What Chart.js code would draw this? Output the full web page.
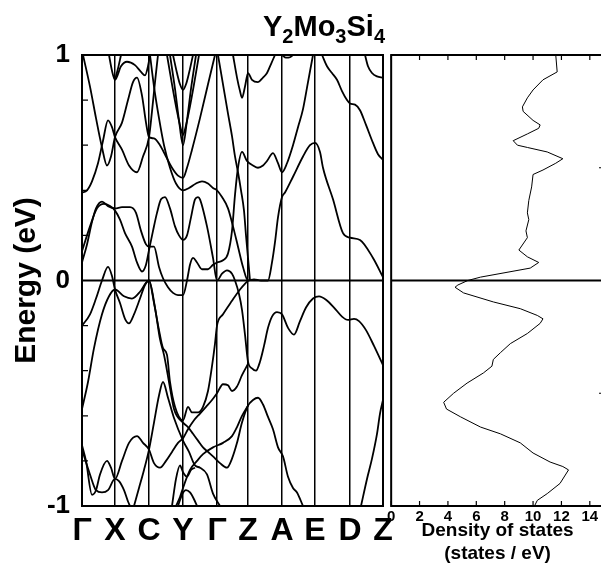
<!DOCTYPE html>
<html>
<head>
<meta charset="utf-8">
<script src="https://cdn.jsdelivr.net/npm/chart.js@4/dist/chart.umd.min.js"></script>
<style>
  html, body { margin: 0; padding: 0; background: #fff; overflow: hidden; width: 601px; height: 565px; }
  #wrap { position: relative; width: 601px; height: 565px; overflow: hidden; }
  #bands { position: absolute; left: 0; top: 0; }
  #dos { position: absolute; left: 385px; top: 0; }
  #title { position: absolute; left: 263px; top: 12px; font: bold 29px 'Liberation Sans', Arial, sans-serif; line-height: 29px; color: #000; white-space: nowrap; }
  #title sub { font-size: 20px; vertical-align: -7px; line-height: 0; }
</style>
</head>
<body>
<div id="wrap">
  <canvas id="bands" width="400" height="565"></canvas>
  <canvas id="dos" width="230" height="565"></canvas>
  <div id="title">Y<sub>2</sub>Mo<sub>3</sub>Si<sub>4</sub></div>
</div>
<script>
// high-symmetry points along the k path
let kLabels = ['Γ', 'X', 'C', 'Y', 'Γ', 'Z', 'A', 'E', 'D', 'Z'];
let kPos = [0, 33, 67, 101, 135, 166, 200, 233, 268, 301];

// bands, [k, energy in eV]
let band1 = [[1,1.0],[8,0.86],[14,0.72],[20,0.59],[25,0.51],[29,0.55],[33,0.636],[40,0.70],[46,0.80],[51,0.88],[55,0.90],[60,0.82],[64,0.70],[67,0.636],[72,0.63],[78,0.60],[84,0.55],[90,0.50],[96,0.465],[101,0.455],[105,0.50],[110,0.58],[118,0.72],[126,0.87],[133,1.0]];
let band2 = [[0,0.39],[5,0.40],[10,0.44],[16,0.52],[21,0.62],[26,0.71],[30,0.68],[33,0.636],[40,0.58],[47,0.51],[55,0.48],[61,0.55],[67,0.636],[70,0.75],[73,0.88],[76,1.0]];
let band3 = [[27,1.0],[30,0.93],[33,0.89],[39,0.95],[45,0.97],[53,0.955],[59,0.925],[63,0.91],[66,0.95],[68,1.0]];
let band3b = [[33,0.89],[36,0.94],[39,1.0]];
let band4 = [[68,1.0],[72,0.86],[77,0.72],[82,0.60],[88,0.50],[94,0.43],[101,0.40],[107,0.41],[114,0.43],[120,0.44],[126,0.43],[131,0.41],[135,0.40],[140,0.37],[146,0.32],[151,0.24],[156,0.15],[161,0.06],[166,0.0],[172,0.005],[179,0.0],[186,0.0],[190,0.08],[193,0.17],[196,0.28],[200,0.37],[203,0.39],[211,0.46],[221,0.55],[228,0.60],[233,0.61],[238,0.57],[241,0.50],[251,0.36],[261,0.21],[268,0.19],[278,0.18],[291,0.10],[301,0.015]];
let band5 = [[91,1.0],[95,0.92],[98,0.87],[101,0.845],[104,0.87],[107,0.92],[111,1.0]];
let band6 = [[85,1.0],[90,0.87],[95,0.75],[99,0.67],[101,0.645],[103,0.67],[107,0.75],[112,0.87],[117,1.0]];
let band7 = [[88,1.0],[93,0.85],[97,0.71],[101,0.60],[105,0.71],[109,0.85],[114,1.0]];
let band8 = [[136,1.0],[141,0.87],[146,0.74],[150,0.64],[153,0.55],[156,0.48],[159,0.40],[162,0.31],[164,0.2],[166,0.1],[168,0.0]];
let band9 = [[0,0.08],[5,0.16],[10,0.26],[14,0.32],[20,0.35],[26,0.33],[33,0.32],[40,0.325],[48,0.325],[54,0.30],[59,0.22],[64,0.16],[67,0.15],[72,0.15],[77,0.06],[81,0.01],[86,-0.03],[91,-0.055],[96,-0.065],[101,-0.065],[105,0.0],[108,0.07],[111,0.10],[115,0.08],[120,0.05],[126,0.05],[131,0.07],[135,0.08],[141,0.09],[146,0.12],[150,0.22],[153,0.38],[156,0.50],[160,0.57],[165,0.53],[171,0.51],[176,0.50],[181,0.51],[185,0.53],[191,0.565],[196,0.52],[200,0.48],[205,0.52],[211,0.60],[216,0.68],[221,0.76],[226,0.88],[231,1.0]];
let band10 = [[0,0.13],[8,0.24],[15,0.32],[22,0.34],[28,0.33],[33,0.31],[38,0.27],[43,0.21],[50,0.15],[55,0.08],[60,0.04],[64,0.07],[67,0.135],[71,0.22],[75,0.30],[79,0.36],[83,0.37],[88,0.32],[93,0.24],[97,0.20],[101,0.18],[105,0.20],[109,0.28],[113,0.36],[116,0.37],[118,0.36],[125,0.24],[131,0.10],[135,0.0],[140,0.03],[145,0.045],[150,0.03],[153,0.0],[157,-0.06],[160,-0.13],[163,-0.24],[166,-0.36],[170,-0.39],[174,-0.40],[178,-0.36],[182,-0.29],[186,-0.21],[190,-0.16],[195,-0.14],[200,-0.15],[206,-0.21],[212,-0.24],[218,-0.18],[224,-0.12],[231,-0.08],[237,-0.07],[244,-0.085],[252,-0.12],[260,-0.16],[266,-0.175],[272,-0.17],[277,-0.18],[284,-0.22],[292,-0.29],[301,-0.375]];
let band11 = [[0,-0.2],[8,-0.15],[14,-0.08],[20,0.0],[26,0.06],[30,0.02],[33,-0.04],[38,-0.10],[43,-0.17],[47,-0.19],[52,-0.15],[58,-0.08],[63,-0.02],[67,0.0],[72,-0.1],[77,-0.22],[81,-0.30],[85,-0.33],[88,-0.45],[93,-0.56],[101,-0.62],[106,-0.56],[110,-0.585],[116,-0.585],[121,-0.56],[126,-0.49],[130,-0.38],[133,-0.28],[135,-0.2],[141,-0.15],[150,-0.09],[158,-0.04],[166,0.0]];
let band12 = [[0,-0.57],[6,-0.45],[12,-0.30],[20,-0.15],[27,-0.07],[33,-0.04],[42,-0.07],[50,-0.08],[58,-0.05],[64,-0.01],[67,0.0],[73,-0.12],[78,-0.26],[82,-0.33],[87,-0.45],[92,-0.57],[101,-0.63],[106,-0.65],[111,-0.68],[116,-0.71],[121,-0.74],[126,-0.76],[131,-0.78],[138,-0.81],[145,-0.83],[150,-0.79],[155,-0.72],[160,-0.63],[166,-0.555],[171,-0.53],[176,-0.52],[181,-0.55],[186,-0.605],[191,-0.66],[196,-0.74],[201,-0.78],[206,-0.87],[211,-0.92],[215,-0.94],[221,-1.0]];
let band13 = [[0,-0.73],[4,-0.80],[10,-0.95],[14,-0.93],[18,-0.86],[25,-0.80],[29,-0.83],[33,-0.88],[40,-0.80],[47,-0.72],[55,-0.69],[61,-0.72],[67,-0.75],[72,-0.81],[78,-0.83],[84,-0.80],[90,-0.76],[96,-0.72],[101,-0.70],[106,-0.66],[112,-0.62],[118,-0.59],[124,-0.56],[130,-0.53],[135,-0.50],[141,-0.46],[146,-0.465],[150,-0.49],[155,-0.47],[160,-0.42],[166,-0.37]];
let band14 = [[0,-0.75],[8,-0.86],[14,-0.93],[20,-0.94],[26,-0.93],[33,-0.88],[37,-0.89],[42,-0.93],[46,-0.98],[48,-1.0]];
let band15 = [[52,-1.0],[57,-0.92],[62,-0.84],[67,-0.75],[72,-0.63],[77,-0.51],[81,-0.45],[86,-0.52],[92,-0.61],[101,-0.71],[107,-0.76],[113,-0.82],[118,-0.83],[125,-0.86],[131,-0.945],[138,-1.0]];
let band16 = [[90,-1.0],[94,-0.88],[98,-0.82],[101,-0.85],[105,-0.87],[109,-0.84],[113,-0.83]];
let band17 = [[94,-1.0],[98,-0.96],[101,-0.92],[108,-0.84],[115,-0.80],[121,-0.77],[131,-0.74],[141,-0.72],[150,-0.69],[155,-0.65],[160,-0.60],[166,-0.555]];
let band18 = [[96,-1.0],[100,-0.95],[104,-0.93],[108,-0.94],[112,-0.97],[115,-1.0]];
let band19 = [[151,1.0],[155,0.9],[158,0.84],[160,0.81],[163,0.86],[166,0.92],[170,0.89],[176,0.88],[181,0.90],[185,0.92],[189,0.96],[193,1.0]];
let band20 = [[200,1.0],[204,0.988],[208,0.99],[211,1.0]];
let band21 = [[240,1.0],[245,0.95],[250,0.92],[255,0.89],[260,0.84],[265,0.80],[268,0.785],[273,0.78],[278,0.755],[284,0.69],[291,0.61],[296,0.56],[301,0.535]];
let band22 = [[283,1.0],[286,0.95],[290,0.92],[295,0.905],[301,0.90]];
let band23 = [[279,-1.0],[285,-0.88],[290,-0.79],[295,-0.68],[298,-0.59],[301,-0.53]];

let bands = [band1, band2, band3, band3b, band4, band5, band6, band7, band8, band9, band10,
  band11, band12, band13, band14, band15, band16, band17, band18, band19, band20, band21, band22, band23];

// density of states (states / eV) against energy (eV)
let dosEnergy = [1.0, 0.925, 0.89, 0.845, 0.81, 0.77, 0.75, 0.71, 0.69, 0.675, 0.65, 0.62, 0.60, 0.59, 0.57, 0.54, 0.52, 0.49, 0.47, 0.415, 0.355, 0.30, 0.27, 0.22, 0.19, 0.135, 0.105, 0.08, 0.055, 0.015, 0.0, -0.02, -0.03, -0.055, -0.095, -0.125, -0.155, -0.17, -0.19, -0.235, -0.28, -0.32, -0.35, -0.38, -0.41, -0.455, -0.50, -0.54, -0.57, -0.605, -0.65, -0.68, -0.72, -0.765, -0.805, -0.825, -0.84, -0.90, -0.945, -0.975, -1.0];
let dosValue = [11.6, 11.7, 10.7, 10.0, 9.6, 9.25, 9.3, 10.0, 10.5, 10.4, 9.6, 8.6, 8.9, 9.6, 11.0, 12.1, 11.6, 10.7, 10.0, 9.9, 9.7, 9.6, 9.7, 9.5, 9.6, 9.0, 9.6, 10.4, 9.8, 6.3, 5.4, 4.7, 4.5, 5.1, 7.2, 9.1, 10.3, 10.7, 10.5, 9.6, 8.4, 7.7, 7.2, 7.1, 6.5, 5.35, 4.4, 3.7, 3.9, 4.9, 6.3, 7.7, 9.1, 10.0, 11.2, 12.1, 12.5, 11.9, 11.0, 10.3, 10.1];
let dosTicks = [0, 2, 4, 6, 8, 10, 12, 14];

Chart.defaults.font.family = "'Liberation Sans', Arial, sans-serif";
Chart.defaults.color = '#000';

// frame around the plot area + short ticks pointing inwards
const frameTicks = {
  id: 'frameTicks',
  afterDatasetsDraw(chart, args, opts) {
    const { ctx, chartArea: a } = chart;
    ctx.save();
    ctx.strokeStyle = '#000';
    ctx.lineWidth = 1.2;
    ctx.beginPath();
    (opts.marks || []).forEach(m => {
      const s = chart.scales[m.scale];
      s.ticks.forEach(t => {
        const p = s.getPixelForValue(t.value);
        if (m.side === 'left') { ctx.moveTo(a.left, p); ctx.lineTo(a.left + m.len, p); }
        if (m.side === 'right') { ctx.moveTo(a.right, p); ctx.lineTo(a.right - m.len, p); }
        if (m.side === 'bottom') { ctx.moveTo(p, a.bottom); ctx.lineTo(p, a.bottom - m.len); }
        if (m.side === 'top') { ctx.moveTo(p, a.top); ctx.lineTo(p, a.top + m.len); }
      });
    });
    ctx.stroke();
    ctx.lineWidth = opts.frame || 2;
    ctx.strokeRect(a.left, a.top, a.right - a.left, a.bottom - a.top);
    ctx.restore();
  }
};

const toXY = arr => arr.map(p => ({ x: p[0], y: p[1] }));

let bandSets = bands.map(b => ({
  data: toXY(b),
  showLine: true,
  borderColor: '#000',
  borderWidth: 1.8,
  pointRadius: 0,
  cubicInterpolationMode: 'monotone'
}));
bandSets.push({
  data: [{ x: kPos[0], y: 0 }, { x: kPos[kPos.length - 1], y: 0 }],
  showLine: true, borderColor: '#000', borderWidth: 2, pointRadius: 0
});

new Chart(document.getElementById('bands'), {
  type: 'scatter',
  data: { datasets: bandSets },
  options: {
    responsive: false,
    animation: false,
    layout: { padding: { top: 55, right: 17, left: 0, bottom: 0 } },
    plugins: {
      legend: { display: false },
      tooltip: { enabled: false },
      frameTicks: { frame: 2, marks: [{ scale: 'y', side: 'left', len: 6 }] }
    },
    scales: {
      x: {
        type: 'linear', min: 0, max: kPos[kPos.length - 1],
        afterBuildTicks: s => { s.ticks = kPos.map(v => ({ value: v })); },
        afterFit: s => { s.height = 59; },
        grid: { color: '#000', lineWidth: 1.5, drawTicks: false },
        border: { display: false },
        ticks: {
          callback: (v, i) => kLabels[i],
          autoSkip: false, maxRotation: 0,
          font: { size: 32, weight: 'bold' }, padding: 6
        }
      },
      y: {
        min: -1, max: 1,
        afterFit: s => { s.width = 82; },
        grid: { display: false, drawTicks: false },
        border: { display: false },
        ticks: {
          stepSize: 0.2, autoSkip: false,
          callback: v => Math.abs(v - Math.round(v)) < 1e-6 ? String(Math.round(v)) : '',
          font: { size: 26, weight: 'bold' }, padding: 12
        },
        title: { display: true, text: 'Energy (eV)', font: { size: 30, weight: 'bold' }, padding: { top: 9, bottom: 0 } }
      }
    }
  },
  plugins: [frameTicks]
});

new Chart(document.getElementById('dos'), {
  type: 'scatter',
  data: {
    datasets: [
      {
        data: dosValue.map((v, i) => ({ x: v, y: dosEnergy[i] })),
        showLine: true, borderColor: '#000', borderWidth: 1, pointRadius: 0, tension: 0
      },
      {
        data: [{ x: 0, y: 0 }, { x: 15, y: 0 }],
        showLine: true, borderColor: '#000', borderWidth: 2, pointRadius: 0
      }
    ]
  },
  options: {
    responsive: false,
    animation: false,
    layout: { padding: { top: 55, right: 11, left: 0, bottom: 0 } },
    plugins: {
      legend: { display: false },
      tooltip: { enabled: false },
      frameTicks: {
        frame: 2,
        marks: [
          { scale: 'x', side: 'bottom', len: 5 },
          { scale: 'x', side: 'top', len: 5 },
          { scale: 'y', side: 'right', len: 5 }
        ]
      }
    },
    scales: {
      x: {
        type: 'linear', min: 0, max: 15,
        afterBuildTicks: s => { s.ticks = dosTicks.map(v => ({ value: v })); },
        afterFit: s => { s.height = 59; },
        grid: { display: false, drawTicks: false },
        border: { display: false },
        ticks: { font: { size: 15, weight: 'bold' }, padding: 2, maxRotation: 0, autoSkip: false },
        title: {
          display: true, text: ['Density of states', '(states / eV)'],
          font: { size: 19, weight: 'bold' }, padding: { top: 0, bottom: 0 }
        }
      },
      y: {
        min: -1, max: 1,
        afterFit: s => { s.width = 6; },
        grid: { display: false, drawTicks: false },
        border: { display: false },
        ticks: { display: false, stepSize: 0.5 }
      }
    }
  },
  plugins: [frameTicks]
});
</script>
</body>
</html>
